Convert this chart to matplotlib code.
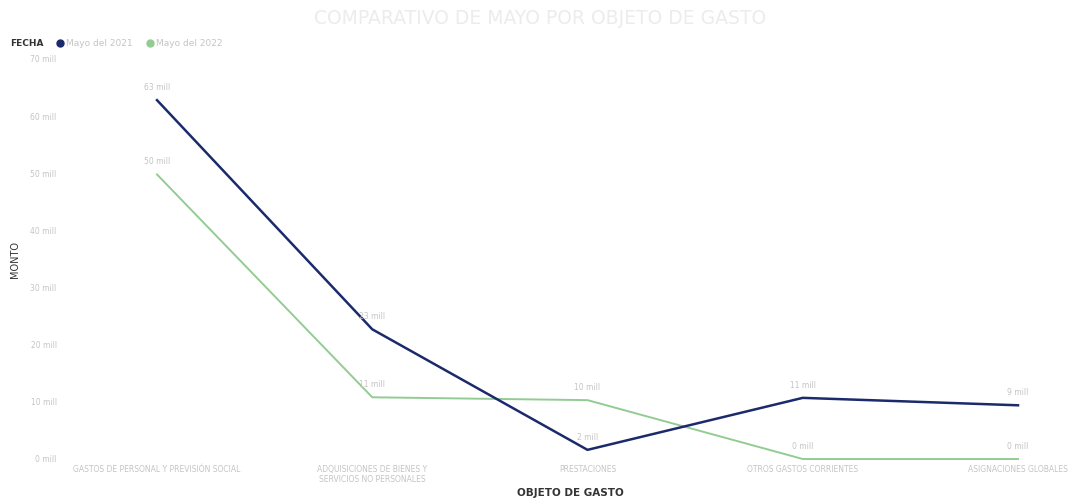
import matplotlib
matplotlib.use("Agg")
import matplotlib.pyplot as plt

categories = [
    "GASTOS DE PERSONAL Y PREVISIÓN SOCIAL",
    "ADQUISICIONES DE BIENES Y\nSERVICIOS NO PERSONALES",
    "PRESTACIONES",
    "OTROS GASTOS CORRIENTES",
    "ASIGNACIONES GLOBALES",
]
series_names = ["Mayo del 2021", "Mayo del 2022"]
values_2021 = [62.8, 22.7, 1.6, 10.7, 9.4]
values_2022 = [49.8, 10.8, 10.3, 0.0, 0.0]
labels_2021 = ["63 mill", "23 mill", "2 mill", "11 mill", "9 mill"]
labels_2022 = ["50 mill", "11 mill", "10 mill", "0 mill", "0 mill"]
yticks = [0, 10, 20, 30, 40, 50, 60, 70]
ytick_labels = ["0 mill", "10 mill", "20 mill", "30 mill", "40 mill", "50 mill", "60 mill", "70 mill"]

navy = "#1b2a6b"
green = "#93cc93"
light = "#c4c4c4"

W, H = 1082, 504
fig = plt.figure(figsize=(W / 100, H / 100), dpi=100)
left_px, right_px, top_px, bot_px = 65, 1075, 59, 459
ax = fig.add_axes([left_px / W, (H - bot_px) / H, (right_px - left_px) / W, (bot_px - top_px) / H])
x = list(range(len(categories)))
step = (1018 - 157) / 4
ax.set_xlim((left_px - 157) / step, (right_px - 157) / step)
ax.set_ylim(0, 70)

ax.plot(x, values_2021, color=navy, lw=1.8, clip_on=False, zorder=3)
ax.plot(x, values_2022, color=green, lw=1.4, clip_on=False, zorder=2)

for xi, v, t in zip(x, values_2021, labels_2021):
    ax.annotate(t, (xi, v), xytext=(0, 6), textcoords="offset points",
                ha="center", va="bottom", fontsize=5.5, color=light)
for xi, v, t in zip(x, values_2022, labels_2022):
    ax.annotate(t, (xi, v), xytext=(0, 6), textcoords="offset points",
                ha="center", va="bottom", fontsize=5.5, color=light)

ax.set_yticks(yticks)
ax.set_yticklabels(ytick_labels, fontsize=5.5, color=light)
ax.set_xticks(x)
ax.set_xticklabels(categories, fontsize=5.5, color=light)
ax.tick_params(length=0, pad=4)
ax.tick_params(axis="y", pad=6)
for s in ax.spines.values():
    s.set_visible(False)

ax.set_ylabel("MONTO", fontsize=7, color="#333333")
ax.yaxis.set_label_coords(-0.045, 0.5)
fig.text(570 / W, 1 - 493 / H, "OBJETO DE GASTO", ha="center", va="center",
         fontsize=7.5, color="#333333", fontweight="bold")

fig.text(540 / W, 1 - 18 / H, "COMPARATIVO DE MAYO POR OBJETO DE GASTO", ha="center",
         va="center", fontsize=13.5, color="#ececec")

# legend
ly = 1 - 43 / H
fig.text(10 / W, ly, "FECHA", ha="left", va="center", fontsize=6.5, color="#333333", fontweight="bold")
fig.lines.append(plt.Line2D([60 / W], [ly], marker="o", color=navy, ms=5, transform=fig.transFigure))
fig.text(66 / W, ly, series_names[0], ha="left", va="center", fontsize=6.5, color=light)
fig.lines.append(plt.Line2D([150 / W], [ly], marker="o", color=green, ms=5, transform=fig.transFigure))
fig.text(156 / W, ly, series_names[1], ha="left", va="center", fontsize=6.5, color=light)

fig.savefig("out.png", dpi=100, facecolor="white")
